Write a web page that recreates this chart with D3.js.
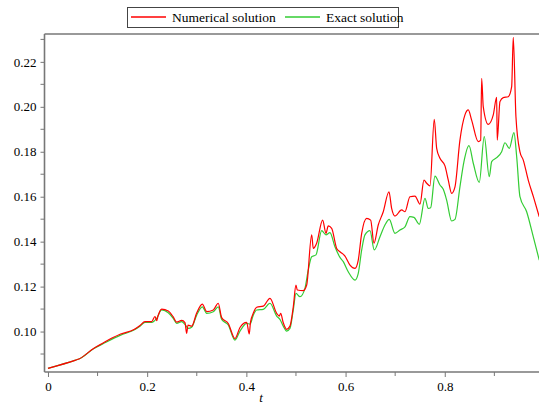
<!DOCTYPE html>
<html>
<head>
<meta charset="utf-8">
<script src="https://cdn.jsdelivr.net/npm/d3@7"></script>
<style>
  body { margin: 0; background: #fff; }
  svg text { font-family: "Liberation Serif", "Times New Roman", Times, "DejaVu Serif", serif !important; }
</style>
</head>
<body>
<svg id="chart" width="539" height="406"></svg>
<script>
// values (t, value)
const exactT = [0, 0.0558, 0.0625, 0.0927, 0.1095, 0.1466, 0.1734, 0.1855, 0.1956, 0.2091,
  0.2192, 0.2292, 0.2425, 0.2526, 0.2595, 0.2696, 0.2762, 0.2829, 0.2897, 0.2998,
  0.3111, 0.3200, 0.3333, 0.3433, 0.3502, 0.3635, 0.3770, 0.3871, 0.4006, 0.4073,
  0.4139, 0.4208, 0.4341, 0.4476, 0.4611, 0.4677, 0.4744, 0.4812, 0.4879, 0.4946,
  0.5000, 0.5081, 0.5181, 0.5248, 0.5317, 0.5403, 0.5518, 0.5605, 0.5685, 0.5786,
  0.5887, 0.5954, 0.6054, 0.6190, 0.6256, 0.6325, 0.6391, 0.6492, 0.6579, 0.6694,
  0.6794, 0.6881, 0.6996, 0.7097, 0.7198, 0.7298, 0.7379, 0.7486, 0.7601, 0.7667,
  0.7716, 0.7802, 0.7903, 0.7970, 0.8038, 0.8139, 0.8206, 0.8306, 0.8387, 0.8488,
  0.8575, 0.8696, 0.8796, 0.8897, 0.8946, 0.9046, 0.9147, 0.9214, 0.9300, 0.9395,
  0.9450, 0.9516, 0.9651, 0.9784, 0.9905];
const exactV = [0.0836, 0.0873, 0.0878, 0.0925, 0.0944, 0.0984, 0.1007, 0.1024, 0.1041, 0.1041,
  0.1059, 0.1096, 0.1084, 0.1059, 0.1036, 0.1044, 0.1032, 0.1014, 0.1019, 0.1073,
  0.1110, 0.1081, 0.1088, 0.1110, 0.1054, 0.1029, 0.0962, 0.1002, 0.1036, 0.1033,
  0.1073, 0.1096, 0.1099, 0.1126, 0.1069, 0.1054, 0.1024, 0.1002, 0.1014, 0.1096,
  0.1170, 0.1155, 0.1192, 0.1274, 0.1333, 0.1341, 0.1449, 0.1430, 0.1440, 0.1377,
  0.1330, 0.1311, 0.1266, 0.1229, 0.1259, 0.1363, 0.1430, 0.1449, 0.1363, 0.1422,
  0.1474, 0.1499, 0.1437, 0.1452, 0.1466, 0.1511, 0.1508, 0.1477, 0.1593, 0.1548,
  0.1551, 0.1692, 0.1652, 0.1633, 0.1585, 0.1492, 0.1499, 0.1644, 0.1756, 0.1827,
  0.1749, 0.1664, 0.1867, 0.1689, 0.1756, 0.1774, 0.1800, 0.1840, 0.1815, 0.1885,
  0.1778, 0.1600, 0.1533, 0.1422, 0.1318];

const numericalT = [0, 0.0558, 0.0625, 0.0927, 0.1095, 0.1290, 0.1466, 0.1734, 0.1855, 0.1956,
  0.2091, 0.2157, 0.2192, 0.2218, 0.2292, 0.2425, 0.2526, 0.2595, 0.2696, 0.2762,
  0.2796, 0.2823, 0.2897, 0.2998, 0.3111, 0.3200, 0.3333, 0.3433, 0.3502, 0.3635,
  0.3770, 0.3871, 0.4006, 0.4058, 0.4083, 0.4139, 0.4208, 0.4341, 0.4476, 0.4611,
  0.4663, 0.4692, 0.4744, 0.4812, 0.4879, 0.4946, 0.5000, 0.5026, 0.5147, 0.5216,
  0.5317, 0.5349, 0.5417, 0.5538, 0.5605, 0.5651, 0.5720, 0.5821, 0.5887, 0.5988,
  0.6089, 0.6190, 0.6256, 0.6325, 0.6425, 0.6506, 0.6573, 0.6659, 0.6760, 0.6875,
  0.6929, 0.6996, 0.7131, 0.7198, 0.7298, 0.7399, 0.7500, 0.7581, 0.7635, 0.7702,
  0.7788, 0.7837, 0.7903, 0.8004, 0.8071, 0.8139, 0.8206, 0.8306, 0.8407, 0.8474,
  0.8542, 0.8675, 0.8724, 0.8744, 0.8776, 0.8877, 0.8978, 0.9046, 0.9058, 0.9113,
  0.9179, 0.9280, 0.9349, 0.9381, 0.9435, 0.9516, 0.9583, 0.9683, 0.9788, 0.9905];
const numericalV = [0.0836, 0.0873, 0.0878, 0.0926, 0.0947, 0.0971, 0.0989, 0.1009, 0.1027, 0.1044,
  0.1044, 0.1067, 0.1049, 0.1069, 0.1100, 0.1091, 0.1065, 0.1042, 0.1050, 0.1040,
  0.0992, 0.1029, 0.1024, 0.1082, 0.1122, 0.1089, 0.1096, 0.1126, 0.1062, 0.1036,
  0.0969, 0.1018, 0.1041, 0.0989, 0.1042, 0.1081, 0.1108, 0.1113, 0.1148, 0.1081,
  0.1069, 0.1081, 0.1039, 0.1010, 0.1024, 0.1110, 0.1207, 0.1185, 0.1182, 0.1207,
  0.1430, 0.1370, 0.1393, 0.1496, 0.1437, 0.1470, 0.1459, 0.1370, 0.1355, 0.1336,
  0.1296, 0.1281, 0.1318, 0.1437, 0.1504, 0.1496, 0.1393, 0.1474, 0.1533, 0.1622,
  0.1548, 0.1514, 0.1541, 0.1533, 0.1600, 0.1603, 0.1567, 0.1674, 0.1660, 0.1648,
  0.1944, 0.1815, 0.1771, 0.1737, 0.1674, 0.1615, 0.1644, 0.1852, 0.1964, 0.1986,
  0.1941, 0.1845, 0.1852, 0.2127, 0.2001, 0.1922, 0.1964, 0.2042, 0.1852, 0.2023,
  0.2041, 0.2045, 0.2090, 0.2309, 0.1956, 0.1800, 0.1763, 0.1674, 0.1599, 0.1511];

const xTicks = [0, 0.2, 0.4, 0.6, 0.8];
const xMinorTicks = [0.1, 0.3, 0.5, 0.7, 0.9];
const yTicks = [0.10, 0.12, 0.14, 0.16, 0.18, 0.20, 0.22];
const yMinorTicks = [0.09, 0.11, 0.13, 0.15, 0.17, 0.19, 0.21, 0.23];

const seriesNames = ['Numerical solution', 'Exact solution'];
const seriesColors = ['#ff0000', '#33cc33'];

const serif = '"Liberation Serif", "Times New Roman", Times, serif';
const svg = d3.select('#chart');
const plotLeft = 44.5, plotRight = 539, plotTop = 34, plotBottom = 372;

const x = d3.scaleLinear().domain([-0.007, 0.99]).range([plotLeft, plotRight]);
const y = d3.scaleLinear().domain([0.0820, 0.2324]).range([plotBottom, plotTop]);

const axisColor = '#777';

// axes
const xAxis = svg.append('g')
  .attr('transform', 'translate(0,' + plotBottom + ')')
  .call(d3.axisBottom(x).tickValues(xTicks).tickSize(5).tickPadding(5)
    .tickFormat(d => d === 0 ? '0' : d3.format('.1f')(d)));
xAxis.append('g').selectAll('line').data(xMinorTicks).join('line')
  .attr('x1', d => x(d)).attr('x2', d => x(d)).attr('y1', 0).attr('y2', 4);

const yAxis = svg.append('g')
  .attr('transform', 'translate(' + plotLeft + ',0)')
  .call(d3.axisLeft(y).tickValues(yTicks).tickSize(4).tickPadding(4).tickFormat(d3.format('.2f')));
yAxis.append('g').selectAll('line').data(yMinorTicks).join('line')
  .attr('y1', d => y(d)).attr('y2', d => y(d)).attr('x1', 0).attr('x2', -4);

[xAxis, yAxis].forEach(g => {
  g.attr('font-family', serif).attr('font-size', 13);
  g.select('.domain').remove();
  g.selectAll('line').attr('stroke', axisColor).attr('stroke-width', 1);
  g.selectAll('text').attr('fill', '#000');
});

// frame lines: left, bottom, top
svg.append('line').attr('x1', plotLeft).attr('x2', plotLeft).attr('y1', plotTop).attr('y2', plotBottom)
  .attr('stroke', axisColor).attr('stroke-width', 1.6);
svg.append('line').attr('x1', plotLeft).attr('x2', plotRight).attr('y1', plotBottom).attr('y2', plotBottom)
  .attr('stroke', axisColor).attr('stroke-width', 1.6);
svg.append('line').attr('x1', plotLeft).attr('x2', plotRight).attr('y1', plotTop).attr('y2', plotTop)
  .attr('stroke', axisColor).attr('stroke-width', 1.6);

svg.append('text')
  .attr('x', 261).attr('y', 402)
  .attr('text-anchor', 'middle')
  .attr('font-family', serif)
  .attr('font-size', 13).attr('font-style', 'italic')
  .text('t');

// curves
const line = d3.line().x(d => x(d[0])).y(d => y(d[1])).curve(d3.curveMonotoneX);
const exactData = exactT.map((t, i) => [t, exactV[i]]);
const numericalData = numericalT.map((t, i) => [t, numericalV[i]]);

svg.append('path').datum(exactData)
  .attr('d', line).attr('fill', 'none')
  .attr('stroke', seriesColors[1]).attr('stroke-width', 1.2).attr('stroke-linejoin', 'round');
svg.append('path').datum(numericalData)
  .attr('d', line).attr('fill', 'none')
  .attr('stroke', seriesColors[0]).attr('stroke-width', 1.2).attr('stroke-linejoin', 'round');

// legend
const legend = svg.append('g').attr('font-family', serif);
legend.append('rect')
  .attr('x', 127.5).attr('y', 7.5).attr('width', 271).attr('height', 20)
  .attr('fill', '#fff').attr('stroke', '#444').attr('stroke-width', 1);
const legendX = [131, 285];
seriesNames.forEach((name, i) => {
  legend.append('line')
    .attr('x1', legendX[i]).attr('x2', legendX[i] + 35).attr('y1', 17).attr('y2', 17)
    .attr('stroke', seriesColors[i]).attr('stroke-width', 1.5);
  legend.append('text')
    .attr('x', legendX[i] + 41).attr('y', 22)
    .attr('font-size', 13.5).text(name);
});
</script>
</body>
</html>
